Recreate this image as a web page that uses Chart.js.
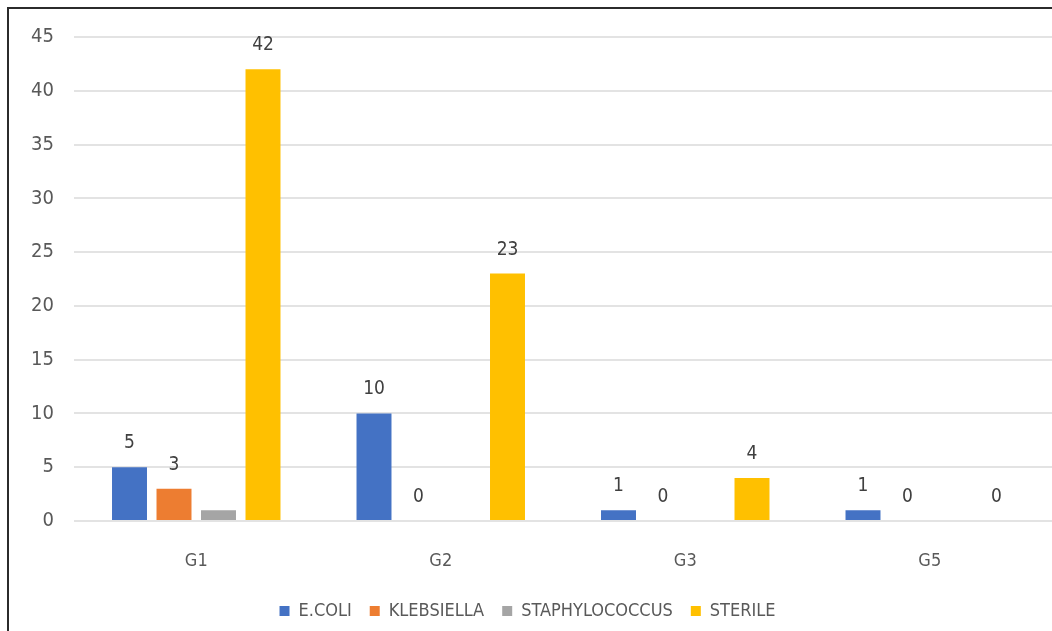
<!DOCTYPE html>
<html>
<head>
<meta charset="utf-8">
<script src="https://cdn.jsdelivr.net/npm/chart.js@4.4.0/dist/chart.umd.min.js"></script>
<style>
  html, body { margin: 0; padding: 0; background: #ffffff; }
  #wrap { position: relative; width: 1052px; height: 631px; overflow: hidden; }
  #frame { position: absolute; left: 7px; top: 7px; right: 0; bottom: 0;
           border-top: 2px solid #2b2b2b; border-left: 2px solid #2b2b2b; pointer-events: none; }
  canvas { position: absolute; left: 0; top: 0; }
</style>
</head>
<body>
<div id="wrap">
  <canvas id="chart" width="1052" height="631"></canvas>
  <div id="frame"></div>
</div>
<script>
// Groups along the x axis
const groups = ['G1', 'G2', 'G3', 'G5'];

// Isolate counts per group
const ecoli = [5, 10, 1, 1];
const klebsiella = [3, 0, 0, 0];
const staphylococcus = [1, 0, 0, 0];
const sterile = [42, 23, 4, 0];

// Value axis ticks
const yTicks = [0, 5, 10, 15, 20, 25, 30, 35, 40, 45];

const FONT = "'DejaVu Sans Condensed', 'Liberation Sans Narrow', sans-serif";
const TEXT = '#595959';

// Writes each bar's value above it (skipped for series flagged showValues:false)
const valueLabels = {
  id: 'valueLabels',
  afterDatasetsDraw(chart) {
    const ctx = chart.ctx;
    ctx.save();
    ctx.font = '19px ' + FONT;
    ctx.fillStyle = '#404040';
    ctx.textAlign = 'center';
    ctx.textBaseline = 'alphabetic';
    chart.data.datasets.forEach((ds, i) => {
      if (ds.showValues === false) return;
      const meta = chart.getDatasetMeta(i);
      meta.data.forEach((bar, j) => {
        const v = ds.data[j];
        if (v === null || v === undefined) return;
        ctx.fillText(String(v), bar.x, bar.y - 19);
      });
    });
    ctx.restore();
  }
};

new Chart(document.getElementById('chart'), {
  type: 'bar',
  data: {
    labels: groups,
    datasets: [
      { label: 'E.COLI', data: ecoli, backgroundColor: '#4472C4' },
      { label: 'KLEBSIELLA', data: klebsiella, backgroundColor: '#ED7D31' },
      { label: 'STAPHYLOCOCCUS', data: staphylococcus, backgroundColor: '#A5A5A5', showValues: false },
      { label: 'STERILE', data: sterile, backgroundColor: '#FFC000' }
    ]
  },
  options: {
    responsive: false,
    animation: false,
    layout: { padding: { top: 37, right: -3, bottom: 1, left: 0 } },
    datasets: { bar: { categoryPercentage: 0.728, barPercentage: 0.786 } },
    scales: {
      x: {
        grid: { display: false, drawTicks: false },
        border: { display: false },
        ticks: { color: TEXT, font: { family: FONT, size: 18 }, padding: 30 },
        afterFit(scale) { scale.height = 63; }
      },
      y: {
        min: 0,
        max: 45,
        afterBuildTicks(scale) { scale.ticks = yTicks.map(v => ({ value: v })); },
        grid: { color: '#e3e3e3', lineWidth: 2, drawTicks: false },
        border: { display: false },
        ticks: { color: TEXT, font: { family: FONT, size: 20 }, padding: 20 },
        afterFit(scale) { scale.width = 74; }
      }
    },
    plugins: {
      legend: {
        position: 'bottom',
        labels: {
          color: TEXT,
          font: { family: FONT, size: 18 },
          boxWidth: 10,
          boxHeight: 10,
          padding: 18
        }
      },
      tooltip: { enabled: false }
    }
  },
  plugins: [valueLabels]
});
</script>
</body>
</html>
